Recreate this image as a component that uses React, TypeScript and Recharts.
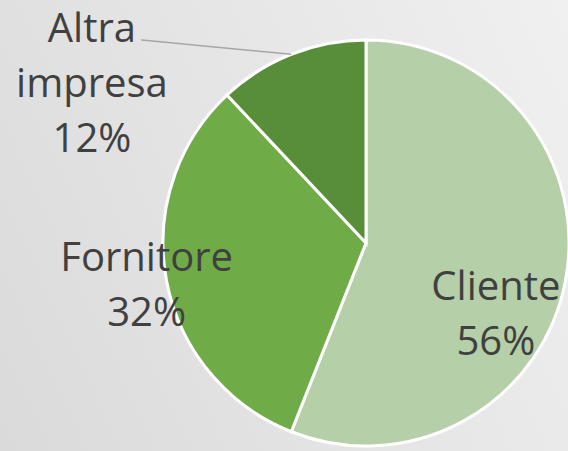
import { PieChart, Pie, Cell } from "recharts";

const categories = ["Cliente", "Fornitore", "Altra impresa"];
const values = [56, 32, 12];
const labelLines = [["Cliente", "56%"], ["Fornitore", "32%"], ["Altra", "impresa", "12%"]];

const colors = ["#b5cfa8", "#6fac47", "#588e39"];
const FONT = "'Open Sans', sans-serif";
const LINE_H = 55;

const data = categories.map((name, i) => ({ name, value: values[i] }));

const RAD = Math.PI / 180;

function renderLabel(props: any) {
  const { cx, cy, outerRadius, midAngle, index } = props;
  const lines = labelLines[index];
  let x = cx;
  let y0 = cy;
  let leader: any = null;
  if (index === 0) {
    // best-fit inside the slice
    x = cx + outerRadius * 0.64;
    y0 = cy + 57;
  } else if (index === 1) {
    x = cx + outerRadius * 1.1 * Math.cos(-midAngle * RAD);
    y0 = cy + outerRadius * 1.1 * Math.sin(-midAngle * RAD) - 14;
  } else {
    const px = cx + outerRadius * Math.cos(-midAngle * RAD);
    const py = cy + outerRadius * Math.sin(-midAngle * RAD);
    const ex = cx - outerRadius * 1.108;
    const ey = cy - outerRadius * 1.0;
    leader = <polyline points={`${px},${py} ${ex + 1},${ey} ${ex},${ey}`} fill="none" stroke="#a6a6a6" strokeWidth={1.5} />;
    x = cx - outerRadius * 1.35;
    y0 = cy - 201;
  }
  return (
    <g key={`lbl-${index}`}>
      {leader}
      <text x={x} y={y0} textAnchor="middle" fill="#404040" fontSize={40} fontFamily={FONT}>
        {lines.map((t, i) => (
          <tspan key={i} x={x} y={y0 + i * LINE_H}>
            {t}
          </tspan>
        ))}
      </text>
    </g>
  );
}

export default function App() {
  return (
    <div
      style={{
        width: 568,
        height: 451,
        overflow: "hidden",
        background: "linear-gradient(245deg, #f0f0f0 0%, #e4e4e4 55%, #dadada 100%)",
      }}
    >
      <style>{`body{margin:0}`}</style>
      <PieChart width={568} height={451} margin={{ top: 0, right: 0, bottom: 0, left: 0 }}>
        <Pie
          data={data}
          dataKey="value"
          nameKey="name"
          cx={366}
          cy={243}
          outerRadius={203}
          startAngle={90}
          endAngle={-270}
          stroke="#ffffff"
          strokeWidth={3}
          label={renderLabel}
          labelLine={false}
          isAnimationActive={false}
        >
          {data.map((d, i) => (
            <Cell key={d.name} fill={colors[i]} />
          ))}
        </Pie>
      </PieChart>
    </div>
  );
}
